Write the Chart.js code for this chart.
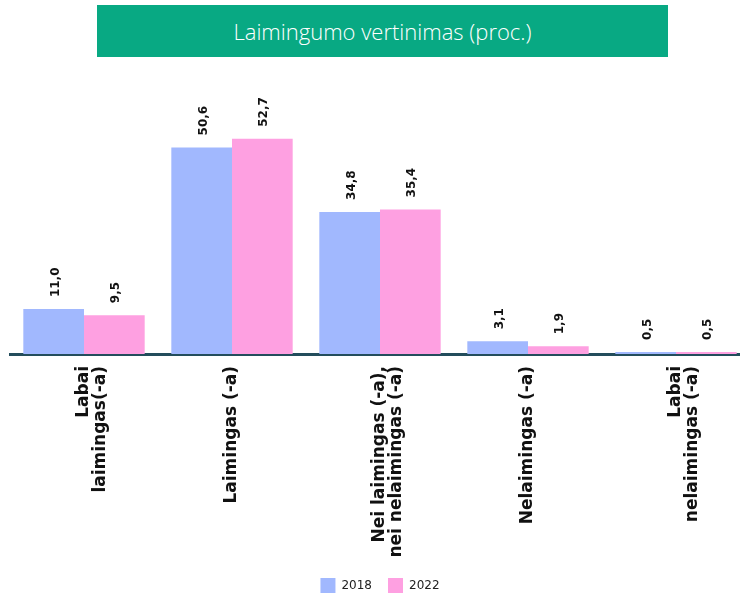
<!DOCTYPE html>
<html>
<head>
    <title>Laimingumo vertinimas</title>
    <style>
        body { margin: 0; background: #fff; }
        .wrap { position: relative; width: 740px; height: 593px; overflow: hidden; }
        .chart-title {
            position: absolute; left: 97px; top: 5px; width: 571px; height: 52px;
            background: #08a983; color: #fff;
            font-family: "Open Sans", sans-serif; font-weight: 300; font-size: 22px;
            line-height: 52px; text-align: center; z-index: 2;
        }
        canvas { position: absolute; left: 0; top: 0; }
    </style>
</head>
<body>
    <div class="wrap">
        <div class="chart-title">Laimingumo vertinimas (proc.)</div>
        <canvas id="chartId" width="752" height="603"></canvas>
    </div>

    <script src="https://cdn.jsdelivr.net/npm/chart.js@4/dist/chart.umd.min.js"></script>

    <script>
        // answer categories (multi-line labels are arrays)
        var categories = [
            ['Labai', 'laimingas(-a)'],
            'Laimingas (-a)',
            ['Nei laimingas (-a),', 'nei nelaimingas (-a)'],
            'Nelaimingas (-a)',
            ['Labai', 'nelaimingas (-a)']
        ];
        var years = ['2018', '2022'];
        var values2018 = [11.0, 50.6, 34.8, 3.1, 0.5];
        var values2022 = [9.5, 52.7, 35.4, 1.9, 0.5];

        // writes the value above each bar, turned upright
        var barValues = {
            id: 'barValues',
            afterDatasetsDraw: function(chart) {
                var ctx = chart.ctx;
                ctx.save();
                ctx.font = 'bold 12px "DejaVu Sans"';
                ctx.fillStyle = '#111';
                ctx.textAlign = 'left';
                ctx.textBaseline = 'middle';
                chart.data.datasets.forEach(function(ds, i) {
                    chart.getDatasetMeta(i).data.forEach(function(bar, j) {
                        ctx.save();
                        ctx.translate(bar.x + 2, bar.y - 12);
                        ctx.rotate(-Math.PI / 2);
                        ctx.fillText(ds.data[j].toFixed(1).replace('.', ','), 0, 0);
                        ctx.restore();
                    });
                });
                ctx.restore();
            }
        };

        var chrt = document.getElementById('chartId').getContext('2d');
        var chartId = new Chart(chrt, {
            type: 'bar',
            data: {
                labels: categories,
                datasets: [{
                    label: years[0],
                    data: values2018,
                    backgroundColor: '#a1b8fe'
                }, {
                    label: years[1],
                    data: values2022,
                    backgroundColor: '#fea0e1'
                }]
            },
            options: {
                responsive: false,
                animation: false,
                layout: { padding: { top: 109, left: 10, right: 2, bottom: 0 } },
                datasets: {
                    bar: { categoryPercentage: 0.82, barPercentage: 1.0 }
                },
                scales: {
                    x: {
                        grid: { display: false, drawTicks: false },
                        border: { display: true, color: '#234d5c', width: 3 },
                        ticks: {
                            color: '#111',
                            font: { family: 'DejaVu Sans', weight: 'bold', size: 17, lineHeight: 1.0 },
                            minRotation: 90,
                            maxRotation: 90,
                            padding: 12,
                            autoSkip: false
                        },
                        afterFit: function(scale) { scale.height = 208; }
                    },
                    y: {
                        display: false,
                        min: 0,
                        max: 60
                    }
                },
                plugins: {
                    legend: {
                        position: 'bottom',
                        labels: {
                            boxWidth: 15,
                            boxHeight: 15,
                            padding: 16,
                            color: '#222',
                            font: { family: 'DejaVu Sans', size: 12 }
                        }
                    },
                    tooltip: { enabled: false }
                }
            },
            plugins: [barValues]
        });
    </script>
</body>
</html>
